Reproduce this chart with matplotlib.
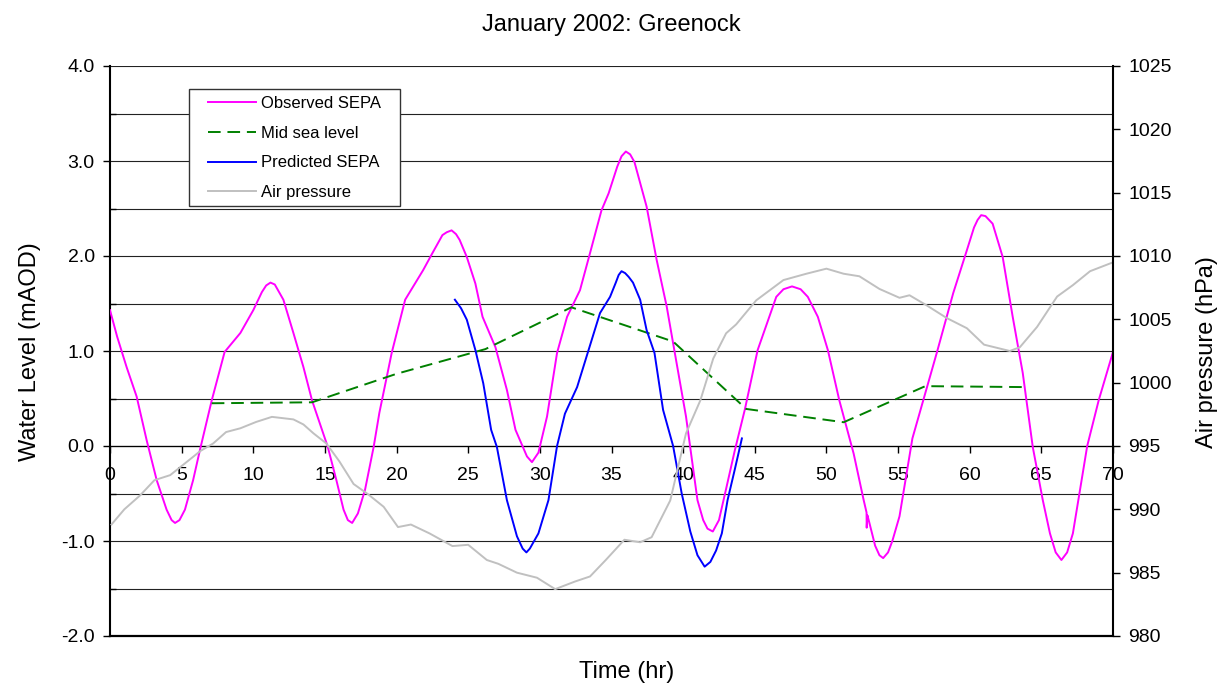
import matplotlib
matplotlib.use("Agg")
import matplotlib.pyplot as plt
from matplotlib.patches import Rectangle
from matplotlib.ticker import MultipleLocator, FormatStrFormatter

plt.rcParams['font.family'] = ['Liberation Sans', 'DejaVu Sans']
plt.rcParams['axes.unicode_minus'] = False

# observed water level (SEPA), hours / mAOD
obs_t = [0.0, 0.5, 1.16, 1.86, 2.56, 3.26, 3.95, 4.3, 4.54, 4.85, 5.23, 5.8, 6.28,
         7.1, 8.0, 9.1, 10.0, 10.6, 10.9, 11.2, 11.5, 12.1, 12.8, 13.5, 14.1, 15.2, 15.8,
         16.3, 16.6, 16.9, 17.3, 17.8, 18.4, 18.8, 19.66, 20.6, 21.85, 22.5, 23.2,
         23.5, 23.84, 24.15, 24.4, 24.9, 25.5, 26.0, 26.9, 27.7, 28.3, 29.1, 29.45, 29.9, 30.5,
         31.2, 31.9, 32.8, 33.5, 34.3, 34.8, 35.4, 35.7, 36.0, 36.3, 36.6, 37.45, 38.15, 38.85,
         39.5, 40.2, 41.0, 41.4, 41.7, 42.07, 42.5, 43.0, 43.6, 44.3, 45.2, 46.5,
         47.0, 47.6, 48.2, 48.7, 49.4, 50.1, 50.9, 51.9, 52.6, 52.80, 52.81, 52.86,
         52.95, 53.4, 53.7, 53.96, 54.3, 54.6, 55.1, 56.0, 57.7, 58.85, 59.8, 60.3,
         60.55, 60.8, 61.1, 61.6, 62.3, 63.0, 63.7, 64.4, 65.1, 65.6, 66.0, 66.4, 66.8,
         67.2, 68.2, 69.0, 70.0]
obs_lvl = [1.43, 1.15, 0.83, 0.52, 0.06, -0.36, -0.67, -0.78, -0.81, -0.78, -0.67, -0.36, -0.04,
           0.48, 0.99, 1.19, 1.43, 1.62, 1.69, 1.72, 1.70, 1.54, 1.19, 0.83, 0.48, -0.01, -0.36,
           -0.67, -0.78, -0.81, -0.71, -0.46, -0.01, 0.35, 0.98, 1.54, 1.85, 2.03, 2.22,
           2.25, 2.27, 2.23, 2.17, 1.99, 1.71, 1.36, 1.04, 0.59, 0.17, -0.11, -0.17, -0.07, 0.31,
           0.98, 1.36, 1.64, 2.03, 2.48, 2.66, 2.94, 3.05, 3.10, 3.07, 2.99, 2.52, 1.96, 1.47,
           0.91, 0.31, -0.57, -0.78, -0.87, -0.90, -0.78, -0.45, -0.05, 0.38, 1.01, 1.57,
           1.65, 1.68, 1.65, 1.57, 1.36, 1.01, 0.48, -0.08, -0.57, -0.70, -0.86, -0.73,
           -0.78, -1.05, -1.15, -1.18, -1.12, -1.0, -0.74, 0.08, 0.98, 1.61, 2.06, 2.30,
           2.38, 2.43, 2.42, 2.34, 1.99, 1.36, 0.77, -0.01, -0.57, -0.92, -1.12, -1.20, -1.12,
           -0.92, 0.0, 0.48, 0.99]

# mid sea level
msl_t = [7.1, 14.1, 20.0, 26.2, 32.2, 39.3, 44.4, 51.2, 56.9, 63.9]
msl_lvl = [0.45, 0.46, 0.76, 1.02, 1.46, 1.10, 0.39, 0.25, 0.63, 0.62]

# predicted water level (SEPA)
pred_t = [24.07, 24.5, 24.9, 25.5, 26.05, 26.6, 27.0, 27.7, 28.4, 28.8, 29.06, 29.3,
          29.9, 30.6, 31.2, 31.75, 32.6, 33.4, 34.2, 34.9, 35.3, 35.5, 35.7, 35.95, 36.2,
          36.5, 37.0, 37.45, 38.0, 38.6, 39.3, 39.9, 40.5, 41.0, 41.5, 41.9, 42.3, 42.7,
          43.1, 43.6, 44.1]
pred_lvl = [1.54, 1.45, 1.33, 1.01, 0.66, 0.17, -0.01, -0.57, -0.95, -1.08, -1.12, -1.08,
            -0.92, -0.57, 0.0, 0.34, 0.62, 1.01, 1.40, 1.57, 1.72, 1.80, 1.84, 1.82, 1.78,
            1.72, 1.54, 1.22, 0.98, 0.38, 0.0, -0.50, -0.90, -1.15, -1.27, -1.22, -1.10, -0.92,
            -0.57, -0.25, 0.08]

# air pressure, hPa
p_t = [0.1, 1.0, 2.1, 3.1, 4.2, 5.2, 6.3, 7.2, 8.1, 9.1, 10.2, 11.3, 12.8, 13.5, 14.2,
       15.1, 16.0, 17.0, 18.0, 19.1, 20.1, 21.0, 22.3, 23.9, 25.0, 26.3, 27.1, 28.4,
       29.8, 31.07, 32.45, 33.5, 34.6, 35.9, 37.0, 37.8, 39.1, 40.2, 41.2, 42.1, 43.0,
       43.7, 45.1, 47.0, 48.6, 50.0, 51.2, 52.3, 53.7, 55.1, 55.8, 57.0, 58.4, 59.8,
       61.0, 62.8, 63.5, 64.7, 66.1, 67.2, 68.4, 70.0]
p_hpa = [988.8, 990.0, 991.1, 992.3, 992.7, 993.6, 994.6, 995.2, 996.1, 996.4, 996.9,
         997.3, 997.1, 996.7, 996.0, 995.2, 993.8, 992.0, 991.2, 990.2, 988.6, 988.8,
         988.1, 987.1, 987.2, 986.0, 985.7, 985.0, 984.6, 983.7, 984.3, 984.7, 986.0,
         987.6, 987.4, 987.8, 990.7, 996.0, 998.6, 1001.9, 1003.9, 1004.6, 1006.5,
         1008.1, 1008.6, 1009.0, 1008.6, 1008.4, 1007.4, 1006.7, 1006.9, 1006.1,
         1005.1, 1004.3, 1003.0, 1002.5, 1002.8, 1004.4, 1006.8, 1007.7, 1008.8, 1009.5]

W, H = 1221, 686
fig = plt.figure(figsize=(W / 100, H / 100), dpi=100)
ax = fig.add_axes([110 / W, 50 / H, 1003 / W, 570 / H])

l1, = ax.plot(obs_t, obs_lvl, color='#FF00FF', lw=1.4, label='Observed SEPA', zorder=3)
l2, = ax.plot(msl_t, msl_lvl, color='#008000', lw=1.4, dashes=(6.5, 3.5), label='Mid sea level', zorder=3)
l3, = ax.plot(pred_t, pred_lvl, color='#0000FF', lw=1.4, label='Predicted SEPA', zorder=3)

ax.set_xlim(0, 70)
ax.set_ylim(-2, 4)
ax.xaxis.set_major_locator(MultipleLocator(5))
ax.yaxis.set_major_locator(MultipleLocator(1))
ax.yaxis.set_minor_locator(MultipleLocator(0.5))
ax.yaxis.set_major_formatter(FormatStrFormatter('%.1f'))
ax.grid(axis='y', which='both', color='#222222', lw=0.8)
ax.set_axisbelow(True)

ax.spines['bottom'].set_position(('data', 0))
ax.spines['bottom'].set_linewidth(0.9)
ax.spines['top'].set_visible(False)
ax.spines['right'].set_visible(False)
ax.spines['left'].set_linewidth(1.5)
ax.tick_params(axis='x', direction='out', length=5, width=1, pad=10, labelsize=14)
ax.tick_params(axis='y', which='major', direction='out', length=5, width=1, pad=6, labelsize=14)
ax.tick_params(axis='y', which='minor', direction='in', length=4, width=1)
ax.axhline(-2, color='black', lw=1.6, clip_on=False, zorder=5)

ax2 = ax.twinx()
l4, = ax2.plot(p_t, p_hpa, color='#C0C0C0', lw=1.4, label='Air pressure')
ax2.set_ylim(980, 1025)
ax2.yaxis.set_major_locator(MultipleLocator(5))
for s in ['top', 'left', 'bottom']:
    ax2.spines[s].set_visible(False)
ax2.spines['right'].set_linewidth(1.5)
ax2.tick_params(axis='y', direction='out', length=5, width=1, pad=6, labelsize=14)

# legend box
fig.add_artist(Rectangle((189 / W, 1 - 206 / H), 211 / W, 117 / H, transform=fig.transFigure,
                         facecolor='white', edgecolor='#333333', lw=1, zorder=4))
fig.legend([l1, l2, l3, l4], [h.get_label() for h in [l1, l2, l3, l4]],
           loc='upper left', bbox_to_anchor=(208 / W, 1 - 96 / H), frameon=False,
           borderpad=0, borderaxespad=0, fontsize=12, handlelength=2.9,
           handletextpad=0.3, labelspacing=0.88)

fig.text(611.5 / W, 1 - 25 / H, 'January 2002: Greenock', ha='center', va='center', fontsize=17)
fig.text(627 / W, 1 - 672 / H, 'Time (hr)', ha='center', va='center', fontsize=17)
fig.text(30 / W, 1 - 352 / H, 'Water Level (mAOD)', ha='center', va='center', rotation=90, fontsize=17)
fig.text(1207 / W, 1 - 352 / H, 'Air pressure (hPa)', ha='center', va='center', rotation=90, fontsize=17)

fig.savefig('out.png', dpi=100)
